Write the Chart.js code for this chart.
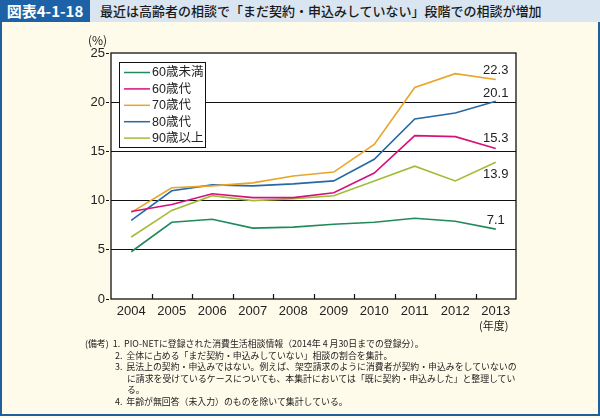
<!DOCTYPE html>
<html><head><meta charset="utf-8">
<script src="https://cdn.jsdelivr.net/npm/chart.js@4.4.1/dist/chart.umd.min.js"></script>
<style>
html,body{margin:0;padding:0;}
body{width:600px;height:418px;position:relative;background:#fefbea;overflow:hidden;font-family:"Liberation Sans","Noto Sans CJK JP",sans-serif;}
#frame{position:absolute;left:0;top:0;width:596px;height:414px;border:2px solid #20609a;border-top:none;box-sizing:content-box;}
#hdr{position:absolute;left:0;top:0;width:600px;height:22px;background:#d9e5f1;}
#hdrlab{position:absolute;left:0;top:0;width:90px;height:22px;background:#1d62a6;color:#fff;font-weight:bold;font-size:15px;line-height:22px;text-align:center;font-family:"Noto Sans CJK JP",sans-serif;}
#title{position:absolute;left:100px;top:0;height:22px;line-height:22px;font-size:13px;color:#1a1a1a;font-family:"Noto Sans CJK JP",sans-serif;font-weight:500;}
#c{position:absolute;left:0;top:0;}
.t{position:absolute;color:#222;font-size:12px;font-family:"Noto Sans CJK JP",sans-serif;white-space:nowrap;}
#notes{position:absolute;left:85px;top:338px;font-size:8.9px;line-height:11.6px;color:#222;font-family:"Noto Sans CJK JP",sans-serif;}
#notes div{white-space:nowrap;}
</style></head><body>
<div id="frame"></div>
<div id="hdr"></div>
<div id="hdrlab">図表4-1-18</div>
<div id="title">最近は高齢者の相談で「まだ契約・申込みしていない」段階での相談が増加</div>
<canvas id="c" width="600" height="418"></canvas>
<div class="t" style="left:88px;top:31px;font-size:12px;">(%)</div>
<div class="t" style="left:479px;top:317px;font-size:11px;">(年度)</div>
<div id="notes">
<div>(備考)&nbsp;&nbsp;1.&nbsp;&nbsp;PIO-NETに登録された消費生活相談情報（2014年 4 月30日までの登録分）。</div>
<div style="padding-left:30px">2.&nbsp;&nbsp;全体に占める「まだ契約・申込みしていない」相談の割合を集計。</div>
<div style="padding-left:30px">3.&nbsp;&nbsp;民法上の契約・申込みではない。例えば、架空請求のように消費者が契約・申込みをしていないの</div>
<div style="padding-left:42px">に請求を受けているケースについても、本集計においては「既に契約・申込みした」と整理してい</div>
<div style="padding-left:42px">る。</div>
<div style="padding-left:30px">4.&nbsp;&nbsp;年齢が無回答（未入力）のものを除いて集計している。</div>
</div>
<script>
const years = ['2004','2005','2006','2007','2008','2009','2010','2011','2012','2013'];
const seriesNames = ['60歳未満','60歳代','70歳代','80歳代','90歳以上'];
const under60 = [4.8,7.8,8.1,7.2,7.3,7.6,7.8,8.2,7.9,7.1];
const age60s  = [8.9,9.6,10.7,10.3,10.3,10.8,12.8,16.6,16.5,15.3];
const age70s  = [8.8,11.3,11.5,11.8,12.5,12.9,15.7,21.5,22.9,22.3];
const age80s  = [8.0,11.0,11.6,11.5,11.7,12.0,14.2,18.3,18.9,20.1];
const over90  = [6.3,9.0,10.5,10.0,10.2,10.5,12.0,13.5,12.0,13.9];
const yTicks = [0,5,10,15,20,25];

const colors = ['#21895c','#d5127a','#e8a52a','#2768a6','#a2bc38'];
const labelOffsets = [-9,-10,-9,-8,12];
const FONT = '"Liberation Sans","Noto Sans CJK JP",sans-serif';

const datasets = [under60,age60s,age70s,age80s,over90].map((d,i)=>({
  label: seriesNames[i], data: d, borderColor: colors[i], backgroundColor: colors[i],
  borderWidth: 1.6, pointRadius: 0, tension: 0, fill: false
}));

const decor = {
  id:'decor',
  beforeDraw(chart){
    const {ctx, chartArea:a} = chart;
    ctx.save(); ctx.fillStyle='#ffffff'; ctx.fillRect(a.left,a.top,a.right-a.left,a.bottom-a.top); ctx.restore();
  },
  afterDraw(chart){
    const {ctx, chartArea:a} = chart;
    const xs = chart.scales.x;
    ctx.save();
    ctx.strokeStyle='#111'; ctx.lineWidth=1.3;
    ctx.strokeRect(a.left,a.top,a.right-a.left,a.bottom-a.top);
    ctx.lineWidth=1.2;
    for(let i=1;i<years.length;i++){
      const x = Math.round(xs.getPixelForValue(i-0.5))+0.5;
      ctx.beginPath(); ctx.moveTo(x,a.bottom); ctx.lineTo(x,a.bottom-5); ctx.stroke();
    }
    ctx.fillStyle='#222'; ctx.font='13px '+FONT; ctx.textAlign='center'; ctx.textBaseline='middle';
    chart.data.datasets.forEach((ds,i)=>{
      const meta = chart.getDatasetMeta(i);
      const p = meta.data[meta.data.length-1];
      ctx.fillText(ds.data[ds.data.length-1].toFixed(1), p.x, p.y+labelOffsets[i]);
    });
    const lx=119, ly=62, lw=86, lh=85;
    ctx.fillStyle='#fff'; ctx.fillRect(lx,ly,lw,lh);
    ctx.strokeStyle='#111'; ctx.lineWidth=1; ctx.strokeRect(lx+0.5,ly+0.5,lw,lh);
    ctx.textAlign='left';
    chart.data.datasets.forEach((ds,i)=>{
      const y = ly+10.5+i*16.4;
      ctx.strokeStyle=ds.borderColor; ctx.lineWidth=1.5;
      ctx.beginPath(); ctx.moveTo(lx+5,y); ctx.lineTo(lx+31,y); ctx.stroke();
      ctx.fillStyle='#222'; ctx.font='12.5px '+FONT;
      ctx.fillText(ds.label, lx+33, y+0.5);
    });
    ctx.restore();
  }
};

new Chart(document.getElementById('c'), {
  type:'line',
  data:{labels:years, datasets},
  options:{
    responsive:false, animation:false, events:[],
    layout:{padding:{left:0,top:53,right:84,bottom:89}},
    plugins:{legend:{display:false}, tooltip:{enabled:false}},
    scales:{
      x:{
        offset:true,
        grid:{display:false, drawTicks:false},
        border:{display:false},
        ticks:{color:'#222', font:{size:13, family:FONT}, padding:5, maxRotation:0, autoSkip:false},
        afterFit(s){ s.height = 30; }
      },
      y:{
        min:0, max:25,
        afterBuildTicks(s){ s.ticks = yTicks.map(v=>({value:v})); },
        grid:{
          color: c => (c.tick && (c.tick.value===0 || c.tick.value===25)) ? 'rgba(0,0,0,0)' : '#111',
          lineWidth:1, tickLength:5, tickColor:'#111', tickWidth:1,
          borderDash:[4,2], tickBorderDash:[3,2]
        },
        border:{display:false},
        ticks:{color:'#222', font:{size:13, family:FONT}, padding:1},
        afterFit(s){ s.width = 111; }
      }
    }
  },
  plugins:[decor]
});
</script>
</body></html>
